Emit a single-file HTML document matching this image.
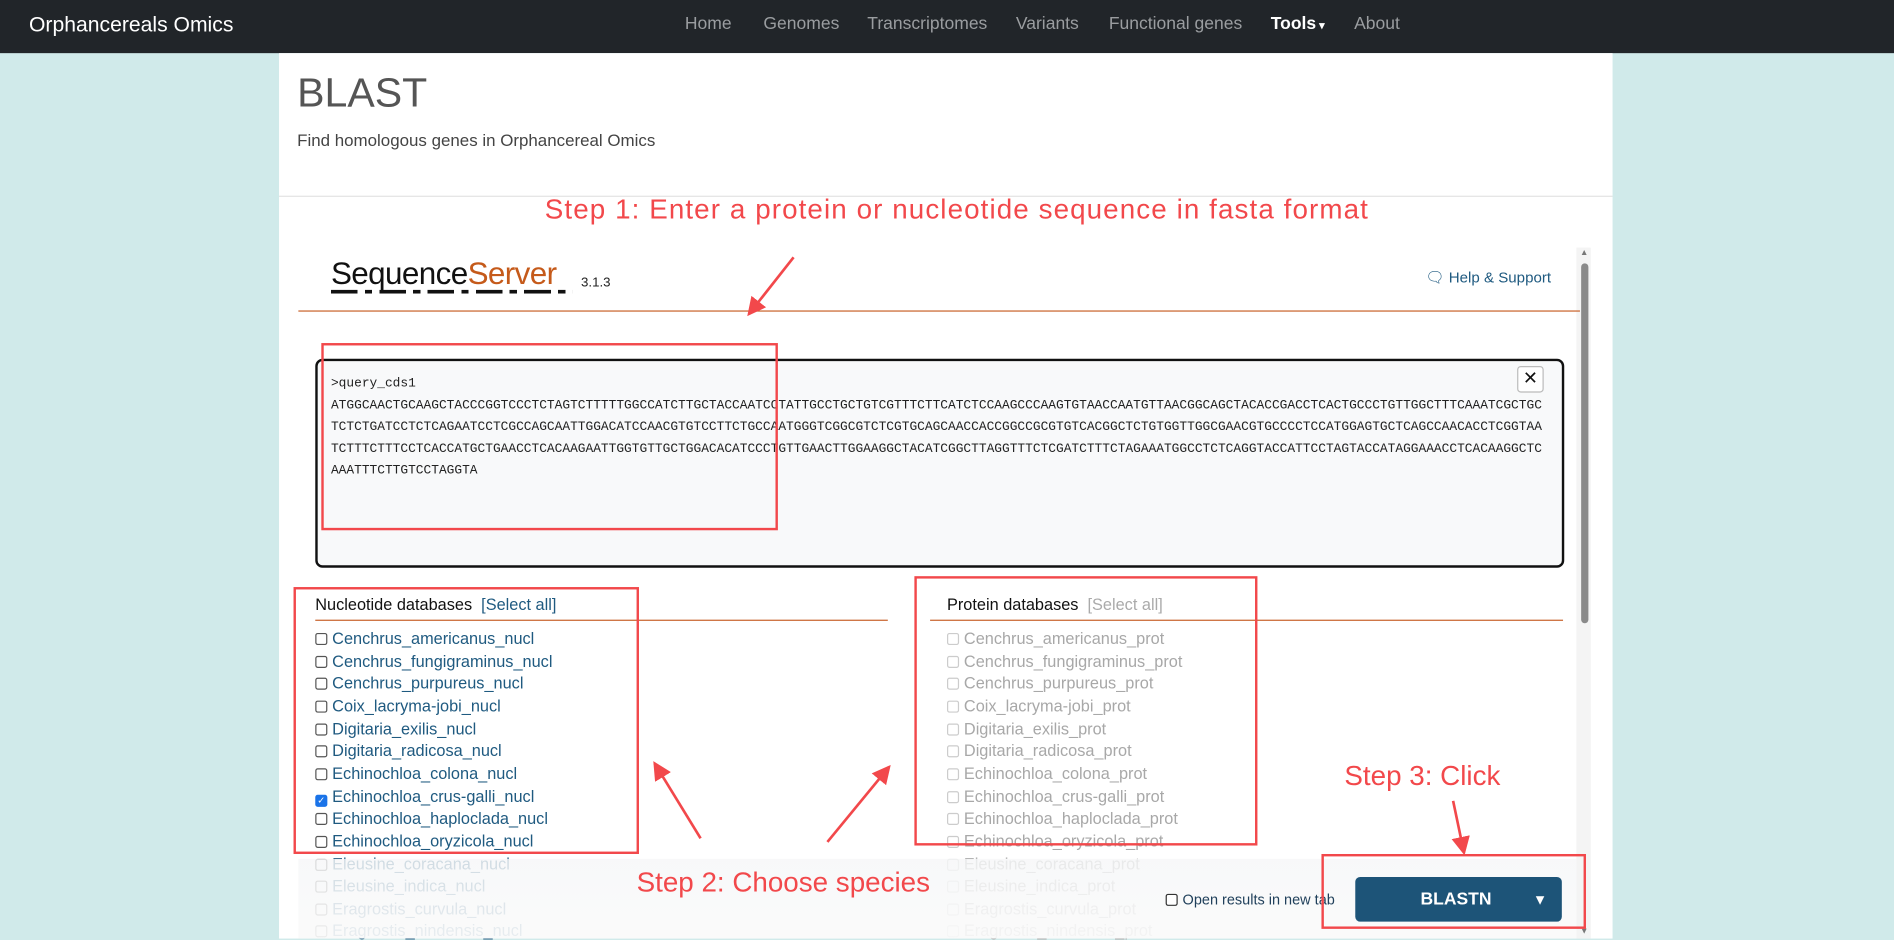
<!DOCTYPE html>
<html><head><meta charset="utf-8"><style>
*{margin:0;padding:0;box-sizing:border-box}
html,body{width:1894px;height:938px;overflow:hidden;background:#d0eaea;font-family:"Liberation Sans",sans-serif}
#w{position:absolute;left:0;top:0;width:1568px;height:777px;transform:scale(1.20791);transform-origin:0 0}
.a{position:absolute;white-space:nowrap}
.nav{position:absolute;left:0;top:0;width:1568px;height:44px;background:#212529}
.ni{position:absolute;top:12px;font-size:14.5px;color:#9a9da0}
.seq{position:absolute;left:274px;font-family:"Liberation Mono",monospace;font-size:10.65px;color:#222;white-space:nowrap}
.it{position:absolute;font-size:13.5px;white-space:nowrap}
.cb{display:inline-block;width:10px;height:10px;border:1px solid #555;border-radius:2px;margin-right:4px;vertical-align:-1px;background:#fff}
.n{color:#1f5a80;left:261px}
.p{color:#a8a8a8;left:784px}
.p .cb{border-color:#ccc}
.rb{position:absolute;border:2px solid #f2484b}
.step{position:absolute;color:#f2484b;font-size:23px;white-space:nowrap}
</style></head><body><div id="w">
<div class="nav">
<div class="a" style="left:24px;top:10px;font-size:17.5px;color:#fff">Orphancereals Omics</div>
<div class="ni" style="left:567px">Home</div>
<div class="ni" style="left:632px">Genomes</div>
<div class="ni" style="left:718px">Transcriptomes</div>
<div class="ni" style="left:841px">Variants</div>
<div class="ni" style="left:918px">Functional genes</div>
<div class="ni" style="left:1052px;color:#fff;font-weight:bold">Tools<span style="font-size:9px"> ▾</span></div>
<div class="ni" style="left:1121px">About</div>
</div>
<div style="position:absolute;left:231px;top:44px;width:1104px;height:733px;background:#fff"></div>
<div class="a" style="left:246px;top:58px;font-size:34px;color:#555">BLAST</div>
<div class="a" style="left:246px;top:108px;font-size:14px;color:#444">Find homologous genes in Orphancereal Omics</div>
<div style="position:absolute;left:231px;top:162px;width:1104px;height:1px;background:#e3e3e3"></div>

<div style="position:absolute;left:1305px;top:205px;width:12px;height:572px;background:#f4f4f4"></div>
<div style="position:absolute;left:1309px;top:218px;width:6px;height:298px;background:#8a8a8a;border-radius:3px"></div>
<div class="a" style="left:1308px;top:206px;font-size:7px;color:#777">▲</div>
<div class="a" style="left:1308px;top:768px;font-size:7px;color:#777">▼</div>

<div class="a" style="left:274px;top:211px;font-size:26px;color:#111;letter-spacing:-0.5px">Sequence<span style="color:#c55a1a">Server</span></div>
<div style="position:absolute;left:274px;top:240px;width:200px;height:3px;background:repeating-linear-gradient(90deg,#111 0 22px,#fff 22px 28px,#111 28px 34px,#fff 34px 40px)"></div>
<div class="a" style="left:481px;top:228px;font-size:11px;color:#222">3.1.3</div>
<div class="a" style="left:1180px;top:223px;font-size:12.5px;color:#1f5a80">🗨 Help &amp; Support</div>
<div style="position:absolute;left:247px;top:257px;width:1061px;height:1px;background:#c8622a"></div>

<div style="position:absolute;left:261px;top:297px;width:1034px;height:173px;border:2px solid #111;border-radius:6px;background:#f8f9fa"></div>
<div style="position:absolute;left:1256px;top:303px;width:22px;height:22px;border:1px solid #bbb;border-radius:3px;background:#fff;font-size:15px;text-align:center;line-height:20px;color:#111">✕</div>
<div class="seq" style="top:312px">&gt;query_cds1</div>
<div class="seq" style="top:330px">ATGGCAACTGCAAGCTACCCGGTCCCTCTAGTCTTTTTGGCCATCTTGCTACCAATCCTATTGCCTGCTGTCGTTTCTTCATCTCCAAGCCCAAGTGTAACCAATGTTAACGGCAGCTACACCGACCTCACTGCCCTGTTGGCTTTCAAATCGCTGC</div>
<div class="seq" style="top:348px">TCTCTGATCCTCTCAGAATCCTCGCCAGCAATTGGACATCCAACGTGTCCTTCTGCCAATGGGTCGGCGTCTCGTGCAGCAACCACCGGCCGCGTGTCACGGCTCTGTGGTTGGCGAACGTGCCCCTCCATGGAGTGCTCAGCCAACACCTCGGTAA</div>
<div class="seq" style="top:366px">TCTTTCTTTCCTCACCATGCTGAACCTCACAAGAATTGGTGTTGCTGGACACATCCCTGTTGAACTTGGAAGGCTACATCGGCTTAGGTTTCTCGATCTTTCTAGAAATGGCCTCTCAGGTACCATTCCTAGTACCATAGGAAACCTCACAAGGCTC</div>
<div class="seq" style="top:384px">AAATTTCTTGTCCTAGGTA</div>

<div class="a" style="left:261px;top:493px;font-size:13.5px;color:#111">Nucleotide databases &nbsp;<span style="color:#1f5a80">[Select all]</span></div>
<div style="position:absolute;left:261px;top:513px;width:474px;height:1px;background:#c8622a"></div>
<div class="a" style="left:784px;top:493px;font-size:13.5px;color:#111">Protein databases &nbsp;<span style="color:#aaa">[Select all]</span></div>
<div style="position:absolute;left:770px;top:513px;width:524px;height:1px;background:#c8622a"></div>

<div class="it n" style="top:521px"><span class="cb"></span>Cenchrus_americanus_nucl</div>
<div class="it n" style="top:540px"><span class="cb"></span>Cenchrus_fungigraminus_nucl</div>
<div class="it n" style="top:558px"><span class="cb"></span>Cenchrus_purpureus_nucl</div>
<div class="it n" style="top:577px"><span class="cb"></span>Coix_lacryma-jobi_nucl</div>
<div class="it n" style="top:596px"><span class="cb"></span>Digitaria_exilis_nucl</div>
<div class="it n" style="top:614px"><span class="cb"></span>Digitaria_radicosa_nucl</div>
<div class="it n" style="top:633px"><span class="cb"></span>Echinochloa_colona_nucl</div>
<div class="it n" style="top:652px"><span class="cb" style="background:#1a73e8;border-color:#1a73e8;color:#fff;font-size:8px;line-height:8px;text-align:center">✓</span>Echinochloa_crus-galli_nucl</div>
<div class="it n" style="top:670px"><span class="cb"></span>Echinochloa_haploclada_nucl</div>
<div class="it n" style="top:689px"><span class="cb"></span>Echinochloa_oryzicola_nucl</div>
<div class="it n" style="top:708px"><span class="cb"></span>Eleusine_coracana_nucl</div>
<div class="it n" style="top:726px"><span class="cb"></span>Eleusine_indica_nucl</div>
<div class="it n" style="top:745px"><span class="cb"></span>Eragrostis_curvula_nucl</div>
<div class="it n" style="top:763px"><span class="cb"></span>Eragrostis_nindensis_nucl</div>

<div class="it p" style="top:521px"><span class="cb"></span>Cenchrus_americanus_prot</div>
<div class="it p" style="top:540px"><span class="cb"></span>Cenchrus_fungigraminus_prot</div>
<div class="it p" style="top:558px"><span class="cb"></span>Cenchrus_purpureus_prot</div>
<div class="it p" style="top:577px"><span class="cb"></span>Coix_lacryma-jobi_prot</div>
<div class="it p" style="top:596px"><span class="cb"></span>Digitaria_exilis_prot</div>
<div class="it p" style="top:614px"><span class="cb"></span>Digitaria_radicosa_prot</div>
<div class="it p" style="top:633px"><span class="cb"></span>Echinochloa_colona_prot</div>
<div class="it p" style="top:652px"><span class="cb"></span>Echinochloa_crus-galli_prot</div>
<div class="it p" style="top:670px"><span class="cb"></span>Echinochloa_haploclada_prot</div>
<div class="it p" style="top:689px"><span class="cb"></span>Echinochloa_oryzicola_prot</div>
<div class="it p" style="top:708px"><span class="cb"></span>Eleusine_coracana_prot</div>
<div class="it p" style="top:726px"><span class="cb"></span>Eleusine_indica_prot</div>
<div class="it p" style="top:745px"><span class="cb"></span>Eragrostis_curvula_prot</div>
<div class="it p" style="top:763px"><span class="cb"></span>Eragrostis_nindensis_prot</div>

<div style="position:absolute;left:247px;top:711px;width:1058px;height:66px;background:linear-gradient(rgba(246,247,248,0.82),rgba(250,250,250,0.92))"></div>
<div class="a" style="left:965px;top:738px;font-size:12px;color:#1f3f5a"><span class="cb" style="border-color:#333"></span>Open results in new tab</div>
<div style="position:absolute;left:1122px;top:726px;width:171px;height:37px;background:#1d5478;border-radius:4px"></div>
<div class="a" style="left:1176px;top:737px;font-size:14.5px;color:#fff;font-weight:bold">BLASTN</div>
<div class="a" style="left:1269px;top:738px;font-size:12px;color:#fff">▼</div>

<div class="rb" style="left:266px;top:284px;width:378px;height:155px"></div>
<div class="rb" style="left:243px;top:486px;width:286px;height:221px"></div>
<div class="rb" style="left:757px;top:477px;width:284px;height:223px"></div>
<div class="rb" style="left:1094px;top:707px;width:219px;height:62px"></div>

<div class="step" style="left:451px;top:160px;letter-spacing:0.9px">Step 1: Enter a protein or nucleotide sequence in fasta format</div>
<div class="step" style="left:527px;top:717px">Step 2: Choose species</div>
<div class="step" style="left:1113px;top:629px">Step 3: Click</div>

<svg style="position:absolute;left:0;top:0" width="1568" height="777">
<defs><marker id="h" markerWidth="8" markerHeight="8" refX="6" refY="4" orient="auto" markerUnits="strokeWidth"><path d="M0,0.5 L7,4 L0,7.5z" fill="#f2484b"/></marker></defs>
<g stroke="#f2484b" stroke-width="2.2" fill="none">
<line x1="657" y1="213" x2="620" y2="260" marker-end="url(#h)"/>
<line x1="580" y1="694" x2="542" y2="632" marker-end="url(#h)"/>
<line x1="685" y1="697" x2="736" y2="635" marker-end="url(#h)"/>
<line x1="1203" y1="663" x2="1212" y2="706" marker-end="url(#h)"/>
</g></svg>
</div></body></html>
